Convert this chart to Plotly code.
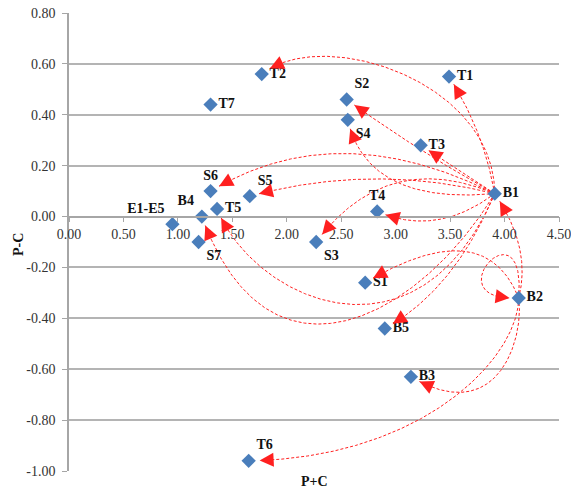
import plotly.graph_objects as go

# ---- data ----
labels = ["E1-E5", "B4", "S7", "T5", "S6", "T7", "S5", "T2", "T6", "S3",
          "S2", "S4", "T4", "S1", "B5", "B3", "T3", "T1", "B1", "B2"]
p_plus_c = [0.95, 1.22, 1.19, 1.36, 1.30, 1.30, 1.66, 1.77, 1.65, 2.27,
            2.55, 2.56, 2.83, 2.72, 2.90, 3.14, 3.23, 3.49, 3.91, 4.13]
p_minus_c = [-0.03, 0.00, -0.10, 0.03, 0.10, 0.44, 0.08, 0.56, -0.96, -0.10,
             0.46, 0.38, 0.02, -0.26, -0.44, -0.63, 0.28, 0.55, 0.09, -0.32]
label_pos = ["top left", "top left", "bottom right", "middle right", "top center",
             "middle right", "top right", "middle right", "top right", "bottom right",
             "top right", "bottom right", "top center", "middle right", "middle right",
             "middle right", "middle right", "middle right", "middle right", "middle right"]

x_ticks = [0.0, 0.5, 1.0, 1.5, 2.0, 2.5, 3.0, 3.5, 4.0, 4.5]
y_ticks = [0.8, 0.6, 0.4, 0.2, 0.0, -0.2, -0.4, -0.6, -0.8, -1.0]

# influence relations (cause -> effect)
edge_src = ["B1", "B1", "B1", "B1", "B1", "B1", "B1", "B1", "B1", "B1", "B1", "B1",
            "B2", "B2", "B2", "B2", "B2"]
edge_tgt = ["T2", "T1", "S2", "S4", "T3", "S6", "S5", "T4", "S3", "B5", "B4", "T5",
            "S1", "B1", "B3", "T6", "B2"]
# curve shape (control points in chord frame: along, across)
edge_a1 = [0.2, 0.333, 0.333, 0.44, 0.333, 0.371, 0.333, 0.36, 0.333, 0.385, 0.286, 0.315,
           0.185, 0.287, 0.141, 0.095, 0]
edge_b1 = [-0.385, -0.067, 0.02, 0.273, 0.0, -0.182, -0.087, 0.193, -0.26, 0.114, 0.398, 0.636,
           -0.355, -0.15, 0.265, 0.157, 0]
edge_a2 = [0.88, 0.667, 0.667, 0.773, 0.667, 0.704, 0.667, 0.693, 0.667, 0.718, 0.819, 0.887,
           0.519, 0.621, 0.70, 0.514, 0]
edge_b2 = [-0.27, -0.067, 0.02, 0.273, 0.0, -0.182, -0.087, 0.193, -0.26, 0.114, 0.646, 0.333,
           -0.355, -0.15, 0.70, 0.283, 0]
LOOP = (8, 100, -88, -5)   # self-loop control offsets (px)

# ---- layout constants ----
W, H = 571, 490
ML, MR, MT, MB = 69, 12, 13, 19
PW, PH = W - ML - MR, H - MT - MB
X_RANGE = [0, 4.5]
Y_RANGE = [-1.0, 0.8]
sx = PW / (X_RANGE[1] - X_RANGE[0])
sy = PH / (Y_RANGE[1] - Y_RANGE[0])
STANDOFF = 9
RED = "#FF2020"
FONT = "Liberation Serif"

pos = {n: (x * sx, y * sy) for n, x, y in zip(labels, p_plus_c, p_minus_c)}


def cubic(p0, p1, p2, p3, t):
    u = 1 - t
    return (u**3 * p0[0] + 3 * u * u * t * p1[0] + 3 * u * t * t * p2[0] + t**3 * p3[0],
            u**3 * p0[1] + 3 * u * u * t * p1[1] + 3 * u * t * t * p2[1] + t**3 * p3[1])


fig = go.Figure()
annotations = []
N = 240
for s, t, a1, b1, a2, b2 in zip(edge_src, edge_tgt, edge_a1, edge_b1, edge_a2, edge_b2):
    S, T = pos[s], pos[t]
    if s == t:
        P1 = (S[0] + LOOP[0], S[1] + LOOP[1])
        P2 = (S[0] + LOOP[2], S[1] + LOOP[3])
    else:
        dx, dy = T[0] - S[0], T[1] - S[1]
        vx, vy = -dy, dx
        P1 = (S[0] + a1 * dx + b1 * vx, S[1] + a1 * dy + b1 * vy)
        P2 = (S[0] + a2 * dx + b2 * vx, S[1] + a2 * dy + b2 * vy)
    pts = [cubic(S, P1, P2, T, i / N) for i in range(N + 1)]
    # trim the end so the arrow stops short of the target marker
    k = N
    while k > 0 and ((pts[k][0] - T[0]) ** 2 + (pts[k][1] - T[1]) ** 2) ** 0.5 < STANDOFF:
        k -= 1
    tip = pts[k]
    j = k
    while j > 0 and ((pts[j][0] - tip[0]) ** 2 + (pts[j][1] - tip[1]) ** 2) ** 0.5 < 12:
        j -= 1
    tail = pts[j]
    seg = pts[:k + 1]
    fig.add_trace(go.Scatter(
        x=[p[0] / sx for p in seg], y=[p[1] / sy for p in seg],
        mode="lines", line=dict(color=RED, width=1, dash="3px,2px"),
        hoverinfo="skip", showlegend=False))
    annotations.append(dict(
        x=tip[0] / sx, y=tip[1] / sy, ax=tail[0] / sx, ay=tail[1] / sy,
        xref="x", yref="y", axref="x", ayref="y", text="",
        showarrow=True, arrowhead=2, arrowsize=2.8, arrowwidth=1,
        arrowcolor=RED, standoff=0))

fig.add_trace(go.Scatter(
    x=p_plus_c, y=p_minus_c, mode="markers+text", text=labels,
    textposition=label_pos,
    textfont=dict(family=FONT, size=14, color="#111111", weight="bold"),
    marker=dict(symbol="diamond", size=11, color="#4A7EBB"),
    showlegend=False, cliponaxis=False))

annotations.append(dict(text="P-C", xref="paper", yref="paper",
                        x=-51 / PW, y=(H - MB - 245) / PH, textangle=-90,
                        xanchor="center", yanchor="middle",
                        showarrow=False, font=dict(family=FONT, size=14, color="#111111", weight="bold")))
annotations.append(dict(text="P+C", xref="paper", yref="paper",
                        x=(314 - ML) / PW, y=(H - MB - 482) / PH,
                        xanchor="center", yanchor="middle",
                        showarrow=False, font=dict(family=FONT, size=14, color="#111111", weight="bold")))

fig.update_layout(
    width=W, height=H, margin=dict(l=ML, r=MR, t=MT, b=MB, autoexpand=False),
    paper_bgcolor="white", plot_bgcolor="white",
    annotations=annotations,
    xaxis=dict(range=X_RANGE, tickvals=x_ticks, ticktext=[f"{v:.2f}" for v in x_ticks],
               anchor="free", position=(0 - Y_RANGE[0]) / (Y_RANGE[1] - Y_RANGE[0]),
               showline=True, linecolor="#A6A6A6", linewidth=1.5,
               ticks="outside", ticklen=5, tickcolor="#A6A6A6",
               showgrid=False, zeroline=False, automargin=False,
               ticklabeloverflow="allow",
               tickfont=dict(family=FONT, size=14, color="#333333")),
    yaxis=dict(range=Y_RANGE, tickvals=y_ticks,
               ticktext=[f"{v:.2f}" for v in y_ticks],
               showline=True, linecolor="#A6A6A6", linewidth=1.5,
               ticks="outside", ticklen=5, tickcolor="#A6A6A6", ticklabelstandoff=4,
               showgrid=True, gridcolor="#B4B4B4", gridwidth=1.5, zeroline=False,
               automargin=False, ticklabeloverflow="allow",
               tickfont=dict(family=FONT, size=14, color="#333333")),
)

fig.write_html("out.html", config={"displayModeBar": False},
               post_script="document.body.style.margin='0';document.body.style.overflow='hidden';")
